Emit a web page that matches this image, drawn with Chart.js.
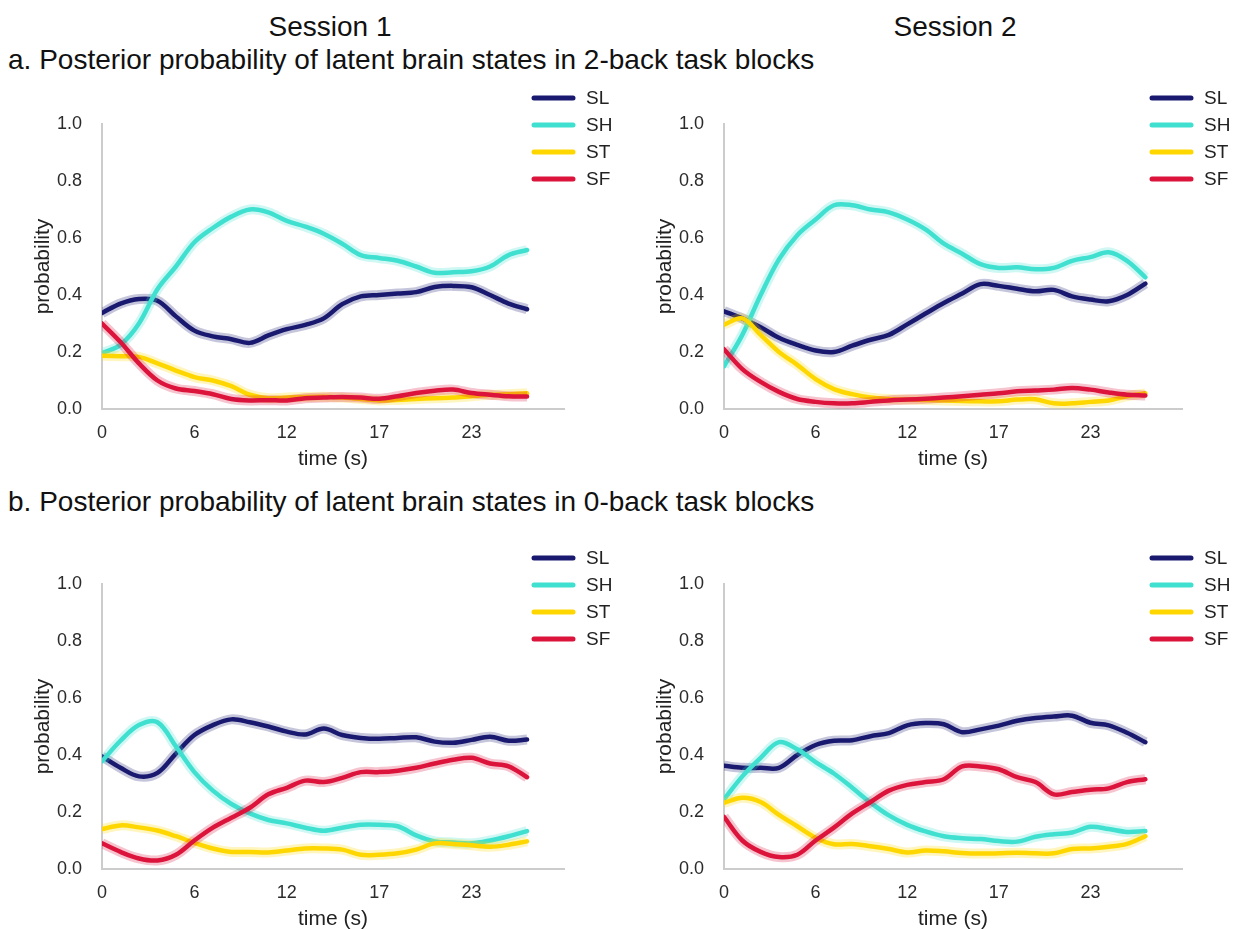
<!DOCTYPE html>
<html>
<head>
<meta charset="utf-8">
<script src="https://cdn.jsdelivr.net/npm/chart.js@4.4.1/dist/chart.umd.min.js"></script>
<style>
  html, body { margin: 0; padding: 0; background: #ffffff; }
  body { width: 1238px; height: 930px; position: relative; overflow: hidden;
         font-family: "Liberation Sans", Arial, sans-serif; color: #111; }
  .hdr { position: absolute; font-size: 28px; white-space: nowrap; line-height: 1; }
  .panel { position: absolute; }
</style>
</head>
<body>
<div class="hdr" style="left:0; width:660px; text-align:center; top:13px;">Session 1</div>
<div class="hdr" style="left:622px; width:666px; text-align:center; top:13px;">Session 2</div>
<div class="hdr" style="left:8px; top:46px;">a. Posterior probability of latent brain states in 2-back task blocks</div>
<div class="hdr" style="left:8px; top:488px;">b. Posterior probability of latent brain states in 0-back task blocks</div>

<canvas class="panel" id="c2s1" width="620" height="400" style="left:0; top:80px;"></canvas>
<canvas class="panel" id="c2s2" width="616" height="400" style="left:622px; top:80px;"></canvas>
<canvas class="panel" id="c0s1" width="620" height="400" style="left:0; top:540px;"></canvas>
<canvas class="panel" id="c0s2" width="616" height="400" style="left:622px; top:540px;"></canvas>

<script>
// Latent brain states and their colours
const stateNames = ['SL', 'SH', 'ST', 'SF'];
const stateColors = ['#191970', '#40e0d0', '#ffd700', '#dc143c'];

// Volume index (one TR = 1.16 s); ticks every 5 volumes, labelled in seconds
const volumes = Array.from({length: 24}, (_, i) => i);
const tickLabels = ['0', '6', '12', '17', '23'];
const yTicks = [0.0, 0.2, 0.4, 0.6, 0.8, 1.0];

// 2-back blocks, session 1
const back2s1_SL = [0.337,0.37,0.386,0.38,0.325,0.275,0.255,0.245,0.232,0.258,0.28,0.295,0.318,0.368,0.395,0.40,0.405,0.41,0.428,0.432,0.427,0.40,0.37,0.35];
const back2s1_SH = [0.196,0.225,0.30,0.42,0.50,0.585,0.635,0.675,0.70,0.69,0.66,0.64,0.615,0.58,0.54,0.53,0.52,0.50,0.478,0.48,0.483,0.50,0.54,0.558];
const back2s1_ST = [0.187,0.185,0.183,0.16,0.135,0.112,0.10,0.08,0.05,0.038,0.04,0.042,0.043,0.04,0.035,0.03,0.032,0.035,0.038,0.04,0.045,0.05,0.052,0.055];
const back2s1_SF = [0.30,0.235,0.16,0.10,0.072,0.063,0.052,0.035,0.03,0.031,0.03,0.038,0.04,0.042,0.04,0.036,0.045,0.056,0.064,0.068,0.056,0.05,0.045,0.044];

// 2-back blocks, session 2
const back2s2_SL = [0.343,0.318,0.287,0.25,0.225,0.205,0.20,0.222,0.243,0.26,0.297,0.335,0.372,0.405,0.438,0.432,0.422,0.413,0.418,0.395,0.384,0.378,0.40,0.44];
const back2s2_SH = [0.15,0.26,0.40,0.525,0.61,0.665,0.715,0.715,0.70,0.69,0.665,0.63,0.58,0.545,0.508,0.495,0.497,0.49,0.495,0.52,0.533,0.55,0.52,0.462];
const back2s2_ST = [0.296,0.318,0.26,0.20,0.155,0.105,0.07,0.052,0.04,0.035,0.033,0.032,0.03,0.028,0.027,0.027,0.033,0.034,0.02,0.02,0.025,0.03,0.045,0.055];
const back2s2_SF = [0.21,0.14,0.095,0.06,0.035,0.025,0.02,0.02,0.025,0.03,0.033,0.036,0.04,0.045,0.05,0.055,0.062,0.065,0.068,0.074,0.068,0.058,0.05,0.047];

// 0-back blocks, session 1
const back0s1_SL = [0.395,0.355,0.325,0.337,0.405,0.47,0.505,0.525,0.515,0.50,0.482,0.472,0.493,0.47,0.46,0.457,0.46,0.462,0.447,0.443,0.453,0.464,0.45,0.454];
const back0s1_SH = [0.378,0.45,0.505,0.515,0.43,0.34,0.275,0.228,0.195,0.172,0.16,0.145,0.134,0.145,0.155,0.155,0.15,0.118,0.097,0.093,0.09,0.10,0.115,0.133];
const back0s1_ST = [0.14,0.153,0.146,0.135,0.115,0.092,0.072,0.06,0.06,0.058,0.065,0.072,0.072,0.068,0.05,0.05,0.055,0.068,0.09,0.088,0.083,0.078,0.085,0.097];
const back0s1_SF = [0.09,0.06,0.037,0.03,0.05,0.10,0.145,0.18,0.215,0.262,0.285,0.31,0.305,0.32,0.34,0.34,0.345,0.355,0.37,0.383,0.39,0.37,0.36,0.322];

// 0-back blocks, session 2
const back0s2_SL = [0.362,0.355,0.355,0.355,0.40,0.435,0.45,0.452,0.466,0.477,0.504,0.512,0.508,0.48,0.49,0.503,0.52,0.53,0.535,0.538,0.513,0.504,0.478,0.445];
const back0s2_SH = [0.244,0.325,0.39,0.445,0.42,0.375,0.335,0.285,0.233,0.188,0.155,0.132,0.115,0.108,0.105,0.098,0.096,0.113,0.122,0.128,0.148,0.14,0.13,0.133];
const back0s2_ST = [0.232,0.25,0.235,0.19,0.15,0.11,0.087,0.088,0.08,0.07,0.058,0.065,0.062,0.056,0.054,0.055,0.057,0.055,0.055,0.07,0.072,0.078,0.088,0.115];
const back0s2_SF = [0.183,0.10,0.06,0.042,0.05,0.10,0.145,0.195,0.235,0.275,0.295,0.305,0.315,0.36,0.36,0.35,0.322,0.305,0.262,0.27,0.278,0.283,0.305,0.315];

const FONT = '"Liberation Sans", Arial, sans-serif';
const TICK_COLOR = '#2b2b2b';
const AXIS_COLOR = '#cccccc';

function withAlpha(hex, a) {
  const n = parseInt(hex.slice(1), 16);
  return `rgba(${(n >> 16) & 255}, ${(n >> 8) & 255}, ${n & 255}, ${a})`;
}

// Legend drawn at the upper right of each panel, outside the plot area
const sideLegend = {
  id: 'sideLegend',
  afterDraw(chart) {
    const {ctx, chartArea} = chart;
    const lines = chart.data.datasets.filter(d => !d.isBand);
    ctx.save();
    ctx.font = `19px ${FONT}`;
    ctx.textBaseline = 'middle';
    ctx.lineCap = 'round';
    lines.forEach((d, k) => {
      const y = chartArea.top - 26 + k * 27;
      ctx.strokeStyle = d.borderColor;
      ctx.lineWidth = 5;
      ctx.beginPath();
      ctx.moveTo(chartArea.right - 30, y);
      ctx.lineTo(chartArea.right + 9, y);
      ctx.stroke();
      ctx.fillStyle = '#222222';
      ctx.fillText(d.label, chartArea.right + 22, y + 1);
    });
    ctx.restore();
  }
};

function makePanel(canvasId, series) {
  const datasets = [];
  series.forEach((values, k) => {
    const col = stateColors[k];
    // shaded band behind the mean curve
    datasets.push({
      label: stateNames[k] + ' band', isBand: true,
      data: volumes.map((v, i) => ({x: v, y: values[i]})),
      borderColor: withAlpha(col, 0.25), borderWidth: 10,
      pointRadius: 0, tension: 0.35, fill: false,
      order: 2 * (series.length - k) - 1
    });
    datasets.push({
      label: stateNames[k],
      data: volumes.map((v, i) => ({x: v, y: values[i]})),
      borderColor: col, borderWidth: 4.5,
      pointRadius: 0, tension: 0.35, fill: false,
      borderCapStyle: 'round', borderJoinStyle: 'round',
      order: 2 * (series.length - k) - 2
    });
  });

  return new Chart(document.getElementById(canvasId), {
    type: 'line',
    data: {datasets},
    plugins: [sideLegend],
    options: {
      responsive: false,
      animation: false,
      events: [],
      layout: {padding: {left: 0, right: 56, top: 44, bottom: 0}},
      plugins: {legend: {display: false}, tooltip: {enabled: false}},
      scales: {
        x: {
          type: 'linear', min: 0, max: 25,
          afterFit(s) { s.height = 71; },
          afterBuildTicks(s) { s.ticks = tickLabels.map((_, i) => ({value: i * 5})); },
          ticks: {
            callback: (v) => tickLabels[Math.round(v / 5)],
            color: TICK_COLOR, font: {family: FONT, size: 18}, padding: 5, maxRotation: 0
          },
          grid: {display: false},
          border: {display: true, color: AXIS_COLOR, width: 2},
          title: {display: true, text: 'time (s)', color: '#222222',
                  font: {family: FONT, size: 21}, padding: {top: 0, bottom: 8}}
        },
        y: {
          type: 'linear', min: 0, max: 1,
          afterFit(s) { s.width = 102; },
          afterBuildTicks(s) { s.ticks = yTicks.map(v => ({value: v})); },
          ticks: {
            callback: (v) => v.toFixed(1),
            color: TICK_COLOR, font: {family: FONT, size: 18}, padding: 12
          },
          grid: {display: false},
          border: {display: true, color: AXIS_COLOR, width: 2},
          title: {display: true, text: 'probability', color: '#222222',
                  font: {family: FONT, size: 21}, padding: {top: 31, bottom: 0}}
        }
      }
    }
  });
}

makePanel('c2s1', [back2s1_SL, back2s1_SH, back2s1_ST, back2s1_SF]);
makePanel('c2s2', [back2s2_SL, back2s2_SH, back2s2_ST, back2s2_SF]);
makePanel('c0s1', [back0s1_SL, back0s1_SH, back0s1_ST, back0s1_SF]);
makePanel('c0s2', [back0s2_SL, back0s2_SH, back0s2_ST, back0s2_SF]);
</script>
</body>
</html>
